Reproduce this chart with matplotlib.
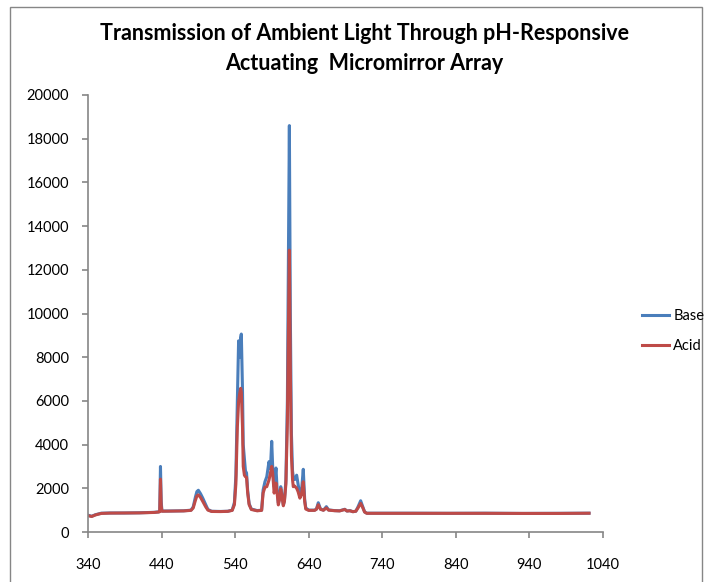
#!/usr/bin/env python3

from matplotlib import pyplot as pl
from matplotlib.patches import Rectangle

import numpy as np

# wavelength [nm] and counts
wavelength = [341, 345, 350, 358, 370, 390, 410, 430, 436, 437.5, 438.5, 439.5, 440.5,
              450, 470, 480, 483, 486, 488, 490, 493, 496, 500, 503, 508, 520, 530,
              536, 539, 541, 543, 544.7, 546, 547.5, 548.4, 550, 551, 552.6, 554, 555.5,
              557, 559, 562, 570, 576, 578, 580.5, 583, 586, 588, 589.7, 591, 593,
              595.5, 597, 598.7, 600.5, 602, 604, 605.5, 607, 609, 611, 612.5, 613.7,
              615, 616.5, 618, 619, 621, 623.6, 625.5, 628, 630, 632.6, 634.5, 636,
              640, 648, 650.5, 653, 656, 660, 664, 667, 675, 682, 689, 692, 696, 700,
              704, 707, 710.6, 713, 716, 719, 740, 780, 830, 880, 930, 980, 1021]

base = [760, 720, 790, 860, 870, 870, 880, 900, 920, 940, 3000, 1400, 960,
        960, 970, 1000, 1150, 1600, 1850, 1910, 1750, 1550, 1250, 1030, 950, 940, 950,
        1000, 1350, 2600, 6000, 8750, 8000, 8900, 9060, 6500, 4000, 3350, 2800, 2700,
        1900, 1300, 1050, 980, 1000, 1920, 2300, 2530, 3220, 2900, 4150, 3000, 2080,
        2930, 2000, 1320, 1600, 2075, 1600, 1240, 1450, 2380, 6000, 13000, 18600,
        10000, 4500, 2800, 2530, 2400, 2600, 2200, 1690, 1800, 2870, 1500, 1100,
        1000, 1000, 1050, 1340, 1050, 1000, 1160, 1010, 980, 970, 1040, 960, 980, 930,
        950, 1150, 1430, 1200, 920, 860, 860, 860, 855, 860, 850, 855, 860]

acid = [740, 710, 780, 850, 865, 870, 875, 895, 915, 930, 2420, 1200, 950,
        955, 965, 990, 1100, 1450, 1650, 1700, 1580, 1400, 1150, 1000, 940, 935, 945,
        990, 1250, 2200, 4800, 5960, 6300, 6575, 6400, 4800, 3000, 2600, 2530, 2500,
        1800, 1250, 1030, 970, 990, 1780, 2050, 2075, 2380, 2700, 3000, 2700, 1780,
        2240, 1800, 1240, 1500, 1980, 1550, 1200, 1400, 2200, 5000, 9500, 12900,
        7500, 3500, 2400, 2075, 2100, 2000, 1850, 1550, 1700, 2300, 1400, 1050,
        990, 990, 1040, 1250, 1040, 995, 1100, 1000, 975, 965, 1030, 960, 970, 930,
        950, 1100, 1310, 1150, 910, 855, 855, 855, 855, 855, 850, 850, 860]

xticks = [340, 440, 540, 640, 740, 840, 940, 1040]
yticks = np.arange(0, 20001, 2000)

pl.rcParams['font.family'] = ['Lato', 'DejaVu Sans']

gray = '#868686'

fig = pl.figure(figsize=(7.07, 5.82), dpi=100)
ax = fig.add_axes([88/707, 1-532/582, (603-88)/707, (532-95)/582])

ax.plot(wavelength, base, color='#4A7EBB', lw=2.2, label='Base')
ax.plot(wavelength, acid, color='#BE4B48', lw=2.2, label='Acid')

ax.set_xlim(340, 1040)
ax.set_ylim(0, 20000)
ax.set_xticks(xticks)
ax.set_yticks(yticks)

for side in ['top', 'right']:
    ax.spines[side].set_visible(False)
for side in ['left', 'bottom']:
    ax.spines[side].set_color(gray)
    ax.spines[side].set_linewidth(1.2)

ax.tick_params(axis='both', colors=gray, labelcolor='black', labelsize=10.5,
               length=4.5, width=1.2, direction='out')
ax.tick_params(axis='x', pad=14)
ax.tick_params(axis='y', pad=9)

fig.text(364/707, 1-34/582, 'Transmission of Ambient Light Through pH-Responsive',
         ha='center', va='center', fontsize=15.5, fontweight='bold')
fig.text(364/707, 1-64/582, 'Actuating  Micromirror Array',
         ha='center', va='center', fontsize=15.5, fontweight='bold')

fig.legend(loc='center left', bbox_to_anchor=(642/707, 1-331/582), frameon=False,
           borderpad=0, borderaxespad=0, handlelength=1.85, handletextpad=0.3,
           labelspacing=1.1, fontsize=10.5)

# chart area border
fig.patches.append(Rectangle((10/707, -0.05), 692/707, 1.05-7/582, transform=fig.transFigure,
                             fill=False, edgecolor=gray, lw=1))

fig.savefig('out.png', dpi=100)
